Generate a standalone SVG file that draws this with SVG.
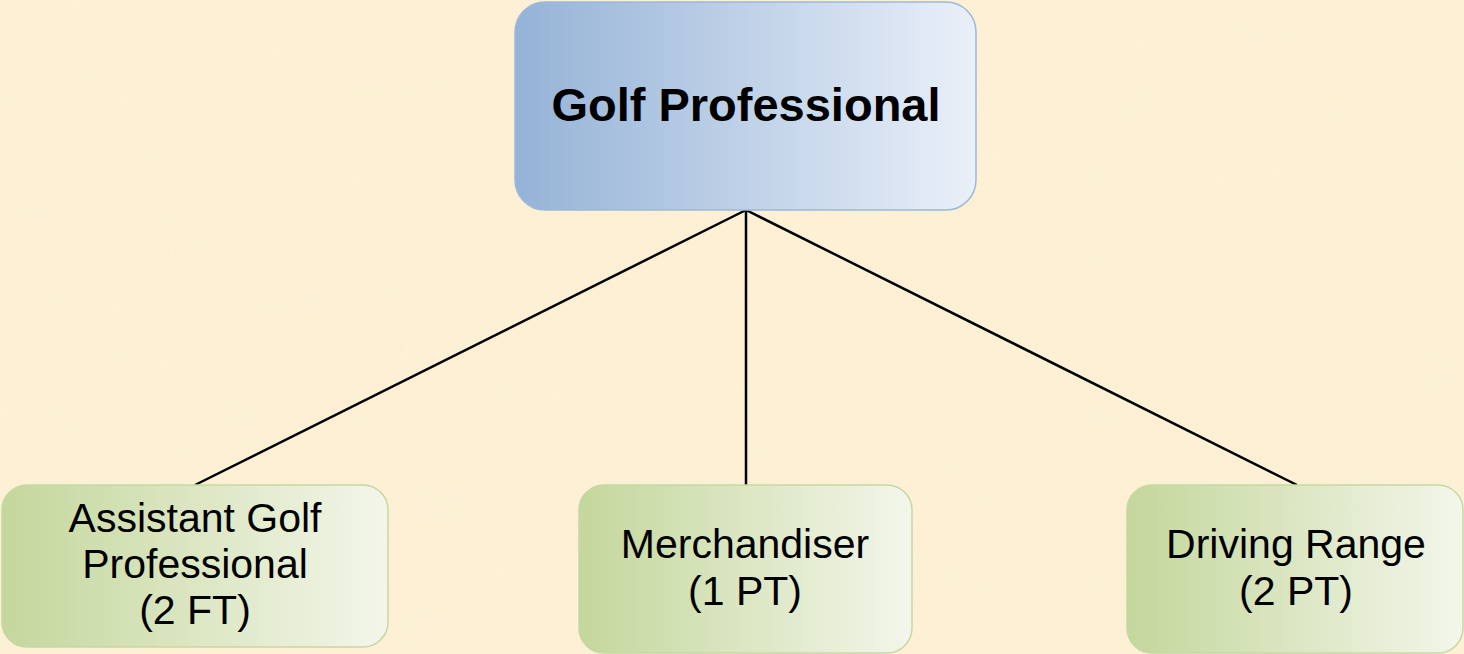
<svg xmlns="http://www.w3.org/2000/svg" width="1464" height="654" viewBox="0 0 1464 654">
  <defs>
    <linearGradient id="gradBlue" x1="0" y1="0" x2="1" y2="0">
      <stop offset="0" stop-color="#95B3D7"/>
      <stop offset="1" stop-color="#EAF0F9"/>
    </linearGradient>
    <linearGradient id="gradGreen" x1="0" y1="0" x2="1" y2="0">
      <stop offset="0" stop-color="#C4D79C"/>
      <stop offset="1" stop-color="#F3F6EA"/>
    </linearGradient>
    <!-- parchment mottling -->
    <filter id="parchment" x="0" y="0" width="100%" height="100%">
      <feTurbulence type="fractalNoise" baseFrequency="0.015" numOctaves="3" seed="7" result="noise"/>
      <feColorMatrix in="noise" type="matrix" values="0 0 0 0 0.95  0 0 0 0 0.86  0 0 0 0 0.68  0 0 0 1.2 -0.45" result="tint"/>
      <feComposite in="tint" in2="SourceGraphic" operator="in"/>
    </filter>
    <style>
      .top { fill: url(#gradBlue); stroke: #9CB8DC; stroke-width: 1.5; }
      .child { fill: url(#gradGreen); stroke: #C6D8A2; stroke-width: 1.5; }
      .title { font-family: "Liberation Sans", Arial, sans-serif; font-weight: bold; font-size: 47px; fill: #000; text-anchor: middle; }
      .label { font-family: "Liberation Sans", Arial, sans-serif; font-size: 41px; fill: #000; text-anchor: middle; }
      .conn line { stroke: #000; stroke-width: 2.5; }
    </style>
  </defs>

  <!-- background -->
  <rect width="1464" height="654" fill="#FDF0D4"/>
  <rect width="1464" height="654" fill="#FDF0D4" filter="url(#parchment)" opacity="0.7"/>

  <!-- connectors -->
  <g id="connectors" class="conn">
    <line x1="746" y1="210" x2="195" y2="485"/>
    <line x1="746" y1="210" x2="746" y2="485"/>
    <line x1="746" y1="210" x2="1297" y2="485"/>
  </g>

  <g id="golf-professional">
    <rect class="top" x="515" y="2" width="461" height="208" rx="30" ry="30"/>
    <text class="title" x="746" y="121">Golf Professional</text>
  </g>

  <g id="assistant-golf-professional">
    <rect class="child" x="2" y="485" width="386" height="162" rx="25" ry="25"/>
    <text class="label" x="195" y="532">Assistant Golf</text>
    <text class="label" x="195" y="578">Professional</text>
    <text class="label" x="195" y="624">(2 FT)</text>
  </g>

  <g id="merchandiser">
    <rect class="child" x="579" y="485" width="333" height="168" rx="25" ry="25"/>
    <text class="label" x="745" y="558">Merchandiser</text>
    <text class="label" x="745" y="605">(1 PT)</text>
  </g>

  <g id="driving-range">
    <rect class="child" x="1127" y="485" width="336" height="168" rx="25" ry="25"/>
    <text class="label" x="1296" y="558">Driving Range</text>
    <text class="label" x="1296" y="605">(2 PT)</text>
  </g>
</svg>
